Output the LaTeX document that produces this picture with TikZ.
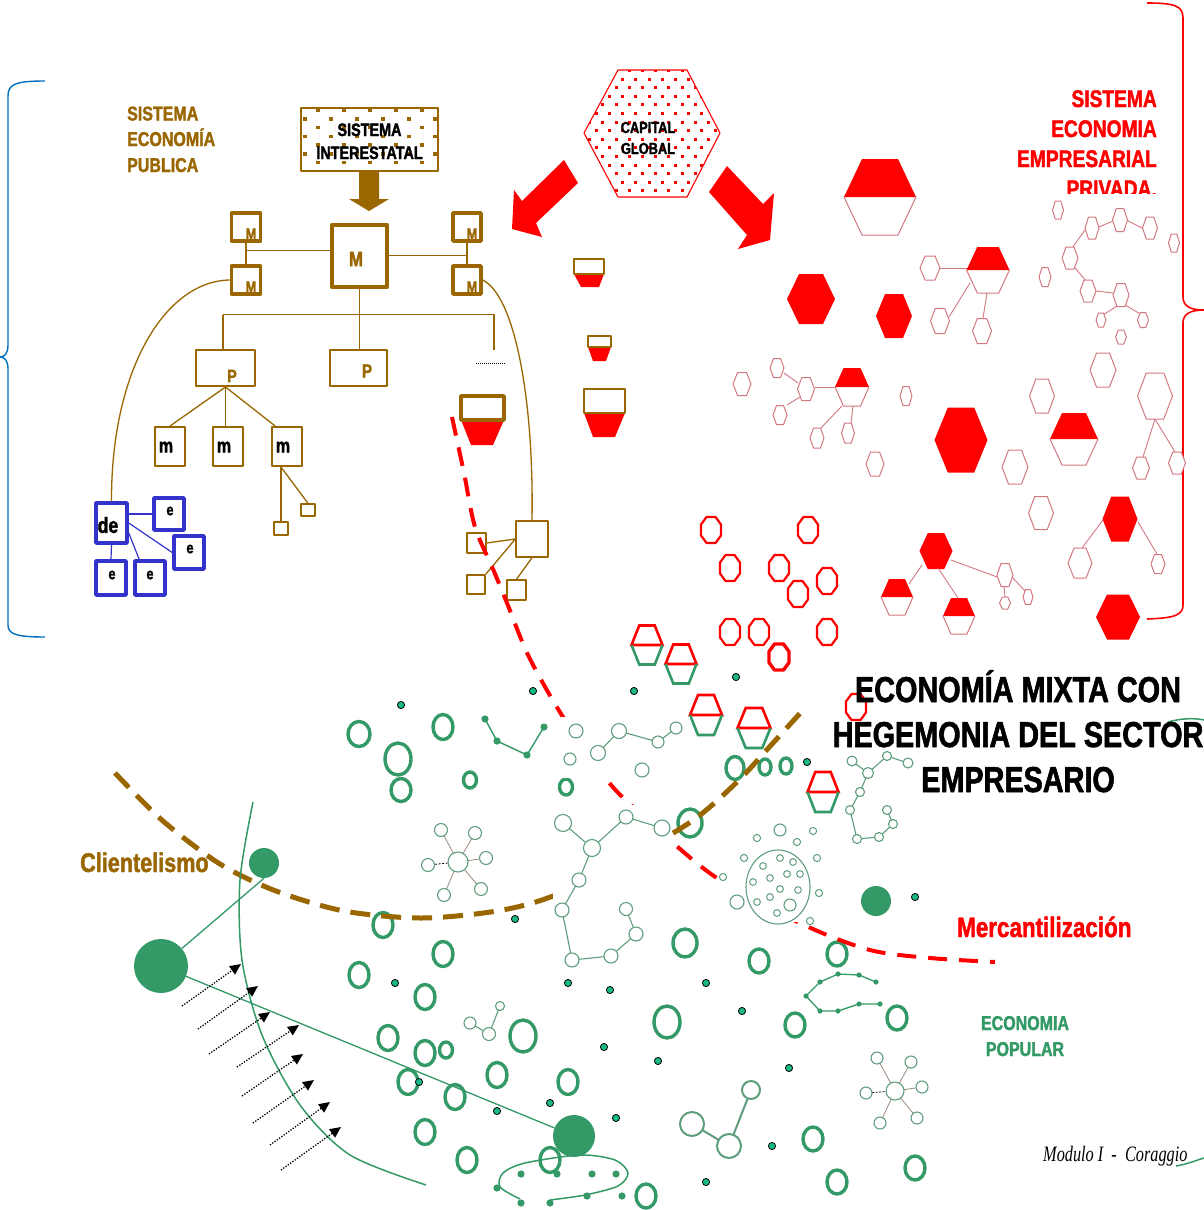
\documentclass[tikz,border=0pt]{standalone}
\usepackage{fontspec}
\setmainfont{Liberation Sans}
\newfontfamily\narb[FakeStretch=0.8,FakeBold=1.6,UprightFont={* Bold}]{Liberation Sans}
\newfontfamily\modfont[FakeStretch=0.74]{Liberation Serif}
\usetikzlibrary{arrows.meta,calc}

\definecolor{brn}{RGB}{153,102,0}
\definecolor{blu}{RGB}{51,51,204}
\definecolor{bracecol}{RGB}{0,112,192}
\definecolor{grn}{RGB}{51,153,102}
\definecolor{lgrn}{RGB}{95,158,125}
\definecolor{pale}{RGB}{210,120,128}
\definecolor{tealdot}{RGB}{25,185,135}

\newcommand\fsz[1]{\fontsize{#1}{#1}\selectfont}
% outlined hexagon: centre x, centre y, half width, half height
\newcommand\hexo[5][]{\draw[palehex,#1] ({#2-#4/2},{#3-#5}) -- ({#2+#4/2},{#3-#5}) -- ({#2+#4},#3) -- ({#2+#4/2},{#3+#5}) -- ({#2-#4/2},{#3+#5}) -- ({#2-#4},#3) -- cycle;}
\newcommand\hexfill[4]{\fill[red] ({#1-#3/2},{#2-#4}) -- ({#1+#3/2},{#2-#4}) -- ({#1+#3},#2) -- ({#1+#3/2},{#2+#4}) -- ({#1-#3/2},{#2+#4}) -- ({#1-#3},#2) -- cycle;}
\newcommand\hexhalf[4]{\fill[red] ({#1-#3/2},{#2-#4}) -- ({#1+#3/2},{#2-#4}) -- ({#1+#3},#2) -- ({#1-#3},#2) -- cycle;
  \draw[palehex] ({#1+#3},#2) -- ({#1+#3/2},{#2+#4}) -- ({#1-#3/2},{#2+#4}) -- ({#1-#3},#2);}
\newcommand\hexrg[4]{\draw[red,line width=2.6,line join=miter] ({#1-#3},#2) -- ({#1-#3/2},{#2-#4}) -- ({#1+#3/2},{#2-#4}) -- ({#1+#3},#2) -- cycle;
  \draw[grn,line width=2.6,line join=miter] ({#1+#3},#2) -- ({#1+#3/2},{#2+#4}) -- ({#1-#3/2},{#2+#4}) -- ({#1-#3},#2);}
\newcommand\octo[3][2.2]{\draw[red,line width=#1] ({#2-4.5},{#3-13}) -- ({#2+4.5},{#3-13}) -- ({#2+10},{#3-5.5}) -- ({#2+10},{#3+5.5}) -- ({#2+4.5},{#3+13}) -- ({#2-4.5},{#3+13}) -- ({#2-10},{#3+5.5}) -- ({#2-10},{#3-5.5}) -- cycle;}
\newcommand\ring[4]{\draw[ring] (#1,#2) ellipse [x radius=#3pt, y radius=#4pt];}
\newcommand\tdot[2]{\filldraw[fill=tealdot,draw=black,line width=0.8] (#1,#2) circle (3.6pt);}
\newcommand\nc[3]{\filldraw[net] (#1,#2) circle (#3pt);}

\begin{document}
\begin{tikzpicture}[x=1pt,y=-1pt,line join=round,
  palehex/.style={draw=pale,line width=1},
  brl/.style={draw=brn,line width=1.3},
  mbox/.style={draw=brn,line width=3.5,minimum width=29pt,minimum height=28pt,inner sep=0pt},
  pbox/.style={draw=brn,line width=2,inner sep=0pt},
  sbox/.style={draw=brn,line width=1.4,inner sep=0pt},
  ebox/.style={draw=blu,line width=3.5,inner sep=0pt,minimum width=30pt,minimum height=33pt},
  ring/.style={draw=grn,line width=3.4},
  net/.style={draw=lgrn,line width=1.1,fill=white},
  netl/.style={draw=lgrn,line width=1.1},
  dotarrow/.style={draw=black,line width=1.3,dash pattern=on 1.3pt off 1.5pt,-{Triangle[length=11pt,width=10pt]}},
]
\useasboundingbox (0,0) rectangle (1204,1210);
\fill[white] (0,0) rectangle (1204,1210);

% ---------- braces ----------
\draw[bracecol,line width=1.4] (45,81) .. controls (16,81) and (8,84) .. (8,96) -- (8,345) .. controls (8,353) and (5,357) .. (0,357) .. controls (5,357) and (8,361) .. (8,369) -- (8,625) .. controls (8,634) and (16,637) .. (45,637);
\draw[red,line width=1.6] (1147,3) .. controls (1175,3) and (1183,6) .. (1183,18) -- (1183,297) .. controls (1183,306) and (1190,310) .. (1204,310) .. controls (1190,310) and (1183,314) .. (1183,323) -- (1183,605) .. controls (1183,615) and (1175,618) .. (1147,619);

% ---------- public economy ----------
\node[font=\narb\fsz{20},text=brn,anchor=base west,inner sep=0pt] (pub1) at (127,120.5) {SISTEMA};
\node[font=\narb\fsz{20},text=brn,anchor=base west,inner sep=0pt] (pub2) at (127,146) {ECONOMÍA};
\node[font=\narb\fsz{20},text=brn,anchor=base west,inner sep=0pt] (pub3) at (127,172) {PUBLICA};

\node[draw=brn,line width=1.5,minimum width=137pt,minimum height=63pt,inner sep=0pt] (sint) at (369.5,139.5) {};
\foreach \i in {0,...,6}{\foreach \j in {0,...,5}{
  \pgfmathsetmacro\xx{303+13*mod(\i+1,2)+26*\j}
  \pgfmathsetmacro\yy{112+8.7*\i}
  \ifdim\xx pt<436pt \fill[brn] (\xx,\yy) rectangle ++(3.5,-3.5);\fi }}
\node[font=\narb\fsz{18},anchor=base,inner sep=0pt] (sint1) at (369.5,136) {SISTEMA};
\node[font=\narb\fsz{18},anchor=base,inner sep=0pt] (sint2) at (369.5,159) {INTERESTATAL};
\fill[brn] (359,171) -- (379,171) -- (379,199) -- (389,199) -- (369,211) -- (349,199) -- (359,199) -- cycle;

\node[mbox] (mTL) at (246,227) {};
\node[mbox] (mBL) at (246,280) {};
\node[mbox,minimum width=28pt] (mTR) at (467,227) {};
\node[mbox,minimum width=28pt] (mBR) at (467,280) {};
\node[draw=brn,line width=4.5,minimum width=55pt,minimum height=62pt,inner sep=0pt] (MM) at (359.5,256) {};
\foreach \nm/\px/\py in {tMa/251/234,tMb/251/287,tMc/472/234,tMd/472/287}
  \node[font=\narb\fsz{16},text=brn,inner sep=0pt] (\nm) at (\px,\py) {M};
\node[font=\narb\fsz{21},text=brn,inner sep=0pt] (tMM) at (356,259) {M};

\coordinate (jL) at ($(mTL.south)!0.35!(mBL.north)$);
\coordinate (jR) at ($(mTR.south)!0.6!(mBR.north)$);
\draw[brl] (mTL.south) -- (mBL.north);
\draw[brl] (mTR.south) -- (mBR.north);
\draw[brl] (jL) -- (jL -| MM.west);
\draw[brl] (MM.east |- jR) -- (jR);

\node[pbox,minimum width=59pt,minimum height=36pt] (P1) at (225.5,368) {};
\node[pbox,minimum width=57pt,minimum height=36pt] (P2) at (358,368) {};
\node[font=\narb\fsz{18},text=brn,inner sep=0pt] (tP1) at (232,376) {P};
\node[font=\narb\fsz{19},text=brn,inner sep=0pt] (tP2) at (367,371) {P};
\coordinate (busL) at (223,314.5);
\coordinate (busR) at (494,314.5);
\coordinate (busE) at (494,350);
\draw[brl] (MM.south) -- (MM.south |- P2.north);
\draw[brl] (busL) -- (busR) -- (busE);
\draw[brl] (busL) -- (busL |- P1.north);
\coordinate (dotA) at (476,363);
\coordinate (dotB) at (505,363);
\draw[black,line width=0.6,dash pattern=on 1pt off 1pt] (dotA) -- (dotB);

\node[pbox,minimum width=30pt,minimum height=39pt] (m1) at (170,446.5) {};
\node[pbox,minimum width=30pt,minimum height=39pt] (m2) at (228,446.5) {};
\node[pbox,minimum width=30pt,minimum height=39pt] (m3) at (287,446.5) {};
\foreach \nm/\px in {tm1/166,tm2/224,tm3/283}
  \node[font=\narb\fsz{20},inner sep=0pt] (\nm) at (\px,447) {m};
\draw[brl] (P1.south) -- (m1.north);
\draw[brl] (P1.south) -- (P1.south |- m2.north);
\draw[brl] (P1.south) -- (m3.120);

\node[sbox,minimum width=14pt,minimum height=13pt] (s1) at (281,528.5) {};
\node[sbox,minimum width=14pt,minimum height=12pt] (s2) at (308,510) {};
\draw[brl] (s1.north |- m3.south) -- (s1.north);
\draw[brl] (s1.north |- m3.south) -- (s2.north);

\node[sbox,minimum width=32pt,minimum height=36pt] (R) at (532,539) {};
\node[sbox,minimum width=19pt,minimum height=20pt] (r1) at (476.5,543) {};
\node[sbox,minimum width=18pt,minimum height=19pt] (r2) at (476,584.5) {};
\node[sbox,minimum width=19pt,minimum height=20pt] (r3) at (516.5,590) {};
\draw[brl] (R.west) -- (r1.east);
\draw[brl] (R.west) -- (r2.north east);
\draw[brl] (R.south) -- (r3.north);

\node[ebox,minimum width=31pt,minimum height=40pt] (de) at (111.5,523) {};
\node[ebox,minimum height=32pt] (e1) at (169,514) {};
\node[ebox] (e2) at (189,552.5) {};
\node[ebox,minimum height=34pt] (e3) at (111,578) {};
\node[ebox,minimum height=34pt] (e4) at (150,578) {};
\node[font=\narb\fsz{22},inner sep=0pt] (tde) at (108,525) {de};
\foreach \nm/\px/\py in {te1/170/511,te2/190/549,te3/112/575,te4/150/575}
  \node[font=\narb\fsz{16},inner sep=0pt] (\nm) at (\px,\py) {e};
\draw[blu,line width=1.2] (de.east |- e1.west) -- (e1.west);
\draw[blu,line width=1.2] (de.east) -- (e2.west);
\draw[blu,line width=1.2] (de.330) -- (e4.120);
\draw[blu,line width=1.2] (de.south) -- (e3.north);

\draw[brl] (mBL.west) .. controls (165,281) and (111,370) .. (de.north);
\draw[brl] (mBR.east) .. controls (515,296) and (534,400) .. (R.north);

% small firms with red bases
\fill[red] (574,274) -- (604,274) -- (599,287) -- (581,287) -- cycle;
\draw[brn,line width=2] (574,259) rectangle (604,274);
\fill[red] (588,347) -- (611,347) -- (606,361) -- (593,361) -- cycle;
\draw[brn,line width=2] (588,336) rectangle (611,347);
\fill[red] (584,413) -- (625,413) -- (615,437) -- (593,437) -- cycle;
\draw[brn,line width=2] (584,389) rectangle (625,413);
\fill[red] (461,420) -- (504,420) -- (493,445) -- (471,445) -- cycle;
\draw[brn,line width=3.5] (461,396) rectangle (504,420);

% ---------- global capital ----------
\begin{scope}
\clip (618,70) -- (687,70) -- (720,133) -- (687,197) -- (618,197) -- (584,133) -- cycle;
\foreach \i in {0,...,15}{\foreach \j in {0,...,11}{
  \pgfmathsetmacro\xx{575+13.2*\j+6.6*mod(\i,2)}
  \pgfmathsetmacro\yy{72+8.6*\i}
  \fill[red] (\xx,\yy) rectangle ++(3,-3);}}
\end{scope}
\draw[red,line width=1.1] (618,70) -- (687,70) -- (720,133) -- (687,197) -- (618,197) -- (584,133) -- cycle;
\node[font=\narb\fsz{16},anchor=base,inner sep=0pt] (cap1) at (648,133) {CAPITAL};
\node[font=\narb\fsz{16},anchor=base,inner sep=0pt] (cap2) at (648,154) {GLOBAL};
\fill[red] (564,160) -- (578,183) -- (536,223) -- (542,237) -- (512,229) -- (514,190) -- (522,201) -- cycle;
\fill[red] (727,166) -- (763,204) -- (774,193) -- (770,240) -- (738,249) -- (747,235) -- (709,192) -- cycle;

% ---------- private business economy ----------
\node[font=\narb\fsz{24},text=red,anchor=base east,inner sep=0pt] (prv1) at (1157,107) {SISTEMA};
\node[font=\narb\fsz{24},text=red,anchor=base east,inner sep=0pt] (prv2) at (1157,137) {ECONOMIA};
\node[font=\narb\fsz{24},text=red,anchor=base east,inner sep=0pt] (prv3) at (1157,167) {EMPRESARIAL};
\node[font=\narb\fsz{24},text=red,anchor=base east,inner sep=0pt] (prv4) at (1157,197) {PRIVADA.};
\fill[white] (1035,194) rectangle (1178,205);

\hexfill{811}{299}{24}{25}
\hexfill{894}{316}{18}{22}
\hexfill{961}{440}{26.5}{32.5}
\hexfill{1120}{519}{17.5}{22.5}
\hexfill{936}{551}{16.5}{18}
\hexfill{1118}{617}{22}{22.5}
\hexhalf{880}{197}{36}{38}
\hexhalf{988}{270}{21.5}{23}
\hexhalf{852}{387}{17}{19}
\hexhalf{1074}{439}{24}{26}
\hexhalf{897}{597}{16}{18}
\hexhalf{959}{616}{16}{18}
\foreach \a/\b in {{940,268}/{967,268},{970,283}/{949,317},{987,293}/{983,318},
  {1099,227}/{1113,221},{1128,221}/{1142,228},{1085,230}/{1072,248},{1075,268}/{1086,281},
  {1096,291}/{1113,293},{1125,305}/{1142,315},{1117,306}/{1103,315},
  {784,373}/{798,383},{787,405}/{800,397},{815,387}/{835,387},{820,429}/{842,406},{851,423}/{853,406},
  {1155,419}/{1143,457},{1155,419}/{1175,452},
  {1103,520}/{1082,548},{1138,522}/{1157,554},
  {922,565}/{909,584},{938,568}/{958,598},{951,560}/{997,577},{1004,587}/{1005,597},{1012,577}/{1026,592}}
  \draw[pale,line width=0.9] (\a) -- (\b);
\foreach \cx/\cy/\w/\h in {930/268/10/12,940/321/9.5/12.5,982/331/9.5/12.5,
  1058/210/5.5/9,1092/228/7/11,1120/220/7.5/11.5,1150/228/7.5/11,1174/243/5.5/9,
  1070/258/8/11,1045/277/6/9.5,1088/291/8/11,1121/295/8/11.5,1101/320/5/7,1143/320/5.5/7.5,1121/337/5.5/7,
  742/384/9/11.5,777/368/7/9.5,806/389/8.5/11.5,780/415/7/9.5,817/438/7/10,848/433/6.5/10,
  906/396/6/9.5,875/464/9/12,1015/467/13/17,1042/396/12.5/17,1103/370/13/17,
  1155/396/17.5/23,1141/468/8.5/11,1177/463/8.5/11,
  1041/513/12.5/16.5,1080/563/12/15,1158/564/7/9.5,1005/575/8/11.5,1005/603/5.5/6,1028/597/5/7.5}
  {\hexo[fill=white]{\cx}{\cy}{\w}{\h}}

% red octagons and mixed firms
\foreach \ox/\oy in {711/530,808/530,730/568,779/568,798/594,827/581,730/632,759/632,827/632,856/707}
  {\octo{\ox}{\oy}}
\octo[3.4]{779}{657}
\hexrg{647}{645}{15.5}{19.5}
\hexrg{681}{664}{15.5}{19.5}
\hexrg{706}{715}{16}{20}
\hexrg{754}{728}{16.5}{20}
\hexrg{823}{792}{15.5}{20}

% ---------- popular economy ----------
\ring{359}{734}{11}{12.5} \ring{398}{759}{13}{16} \ring{401}{790}{10}{11.5}
\ring{443}{727}{10}{12.5} \ring{470}{780}{6.5}{8} \ring{566}{787}{6.5}{8}
\ring{383}{925}{10}{12.5} \ring{443}{954}{10}{12.5} \ring{359}{975}{10}{12.5}
\ring{425}{997}{10}{12.5} \ring{388}{1038}{10}{12.5} \ring{425}{1053}{10}{12.5}
\ring{446}{1050}{6.5}{8} \ring{523}{1036}{13}{16} \ring{497}{1075}{10}{12.5}
\ring{408}{1082}{10}{12.5} \ring{455}{1097}{10}{12.5} \ring{568}{1082}{10}{12.5}
\ring{425}{1132}{10}{12.5} \ring{467}{1160}{10}{12.5} \ring{550}{1160}{10}{12.5}
\ring{735}{768}{9}{11.5} \ring{765}{767}{6}{8} \ring{786}{766}{6}{8}
\ring{690}{823}{12}{14} \ring{685}{943}{12}{14} \ring{759}{961}{10}{12}
\ring{837}{954}{10}{12} \ring{667}{1022}{13}{16} \ring{795}{1025}{10}{12}
\ring{897}{1018}{10}{12} \ring{813}{1139}{10}{12} \ring{915}{1168}{10}{12}
\ring{837}{1182}{10}{12} \ring{646}{1196}{10}{12}

\foreach \dx/\dy in {401/705,533/691,634/691,736/677,807/762,515/919,915/897,395/983,568/983,
  610/990,706/983,742/1011,604/1047,658/1061,789/1068,419/1082,497/1111,550/1103,616/1118,772/1146,706/1182}
  {\tdot{\dx}{\dy}}

% dashed frontiers
\draw[red,line width=4,dash pattern=on 19pt off 12pt] plot[smooth] coordinates {(452,417) (464,473) (475,527) (493,569) (507,603) (529,657) (563,717) (607,780) (633,807) (673,843) (720,880) (804,925) (870,950) (930,958) (995,962)};
\draw[brn,line width=5,dash pattern=on 20pt off 11pt] plot[smooth] coordinates {(115,773) (163,821) (220,864) (276,891) (344,911) (421,918) (497,911) (553,896) (622,862) (692,821) (737,782) (773,743) (803,710)};

% backgrounds of the network groups
\fill[white] (561,717) rectangle (690,778);
\fill[white] (553,805) rectangle (671,975);
\fill[white] (718,818) rectangle (828,922);

% group A
\draw[netl] (598,753) -- (619,731) -- (658,742) -- (676,728);
\nc{576}{731}{7} \nc{570}{759}{6} \nc{598}{753}{7.5} \nc{619}{731}{7.5} \nc{658}{742}{6} \nc{676}{728}{6} \nc{642}{770}{7}
% group B
\draw[grn,line width=1.4] (485,719) -- (497,741) -- (527,755) -- (544,727);
\foreach \p in {(485,719),(497,741),(527,755),(544,727)} \fill[grn] \p circle (3.6pt);
% star C
\foreach \p in {(441,830),(475,833),(486,858),(444,895),(481,889)} \draw[pale!55!lgrn,line width=0.8] (458,862) -- \p;
\draw[black,line width=0.8,dash pattern=on 2pt off 1.5pt] (458,862) -- (428,865);
\nc{458}{862}{10} \nc{441}{830}{6.5} \nc{475}{833}{6.5} \nc{428}{865}{6.5} \nc{486}{858}{6.5} \nc{444}{895}{6.5} \nc{481}{889}{6.5}
% chain D
\draw[netl] (563,823) -- (592,848) -- (626,817) -- (662,828);
\draw[netl] (592,848) -- (579,880) -- (562,910) -- (572,960) -- (611,956) -- (636,934) -- (626,909);
\nc{563}{823}{8.5} \nc{592}{848}{8.5} \nc{626}{817}{7} \nc{662}{828}{8} \nc{579}{880}{7}
\nc{562}{910}{7} \nc{572}{960}{7} \nc{611}{956}{7} \nc{636}{934}{7} \nc{626}{909}{6.5}
% cell E
\draw[lgrn,line width=1.1] (778,887) ellipse [x radius=32pt, y radius=37pt];
\foreach \p in {(763,866),(780,858),(793,862),(753,882),(770,878),(787,874),(800,874),(780,889),(798,890),(757,902),(770,897),(777,913)}
  \draw[lgrn,line width=1] \p circle (3.4pt);
\nc{790}{905}{6}
\foreach \p in {(757,838),(797,842),(813,831),(744,858),(817,858),(819,893),(810,921),(723,877)}
  \draw[lgrn,line width=1] \p circle (3.6pt);
\nc{780}{830}{6} \nc{737}{902}{7}
% chain F
\draw[netl] (852,761) -- (868,773) -- (887,756) -- (908,763);
\draw[netl] (868,773) -- (860,792) -- (850,810) -- (857,839) -- (879,837) -- (893,824) -- (887,810);
\nc{852}{761}{5} \nc{868}{773}{5.5} \nc{860}{792}{4.5} \nc{850}{810}{4.5} \nc{857}{839}{4.5}
\nc{879}{837}{4.5} \nc{893}{824}{4.5} \nc{887}{810}{4.5} \nc{887}{756}{4.5} \nc{908}{763}{5}
% group G
\draw[netl] (470,1023) -- (489,1034) -- (500,1006);
\nc{470}{1023}{6} \nc{489}{1034}{6.5} \nc{500}{1006}{4.5}
% group H
\draw[lgrn,line width=2] (692,1124) -- (729,1146) -- (751,1090);
\draw[lgrn,line width=2,fill=white] (692,1124) circle (12pt);
\draw[lgrn,line width=2,fill=white] (729,1146) circle (12pt);
\draw[lgrn,line width=2,fill=white] (751,1090) circle (9pt);
% star I
\foreach \p in {(877,1058),(911,1062),(922,1087),(880,1123),(917,1118)} \draw[pale!55!lgrn,line width=0.8] (895,1091) -- \p;
\draw[black,line width=0.8,dash pattern=on 2pt off 1.5pt] (895,1091) -- (866,1093);
\nc{895}{1091}{9} \nc{877}{1058}{6} \nc{911}{1062}{6} \nc{922}{1087}{6} \nc{866}{1093}{6} \nc{880}{1123}{6} \nc{917}{1118}{6}
% chain J
\draw[grn,line width=1.3] (876,982) -- (859,975) -- (838,974) -- (820,982) -- (806,996) -- (820,1011) -- (838,1011) -- (859,1004) -- (880,1004);
\foreach \p in {(876,982),(859,975),(838,974),(820,982),(806,996),(820,1011),(838,1011),(859,1004),(880,1004)}
  \fill[grn] \p circle (2.6pt);

% clientelist links
\draw[grn,line width=1.5] plot[smooth] coordinates {(253,802) (240,880) (242,960) (262,1035) (300,1105) (350,1155) (426,1185)};
\draw[grn,line width=1.5] plot[smooth] coordinates {(520,1199) (500,1187) (503,1173) (525,1163) (580,1155) (615,1160) (628,1173) (618,1186) (585,1195) (550,1200)};
\foreach \p in {(521,1174),(557,1174),(592,1174),(616,1174),(497,1188),(521,1203),(550,1203),(587,1196),(622,1196)}
  \fill[grn] \p circle (3.6pt);
\node[circle,fill=grn,minimum size=54pt,inner sep=0pt] (bigA) at (161,966) {};
\node[circle,fill=grn,minimum size=30pt,inner sep=0pt] (bigB) at (264,863) {};
\node[circle,fill=grn,minimum size=42pt,inner sep=0pt] (bigC) at (574,1136) {};
\node[circle,fill=grn,minimum size=30pt,inner sep=0pt] (bigD) at (876,901) {};
\draw[grn,line width=1.3] (bigA.40) -- (bigB.south);
\draw[grn,line width=1.3] (bigA) -- (bigC);

\foreach \sx/\sy/\ex/\ey in {182/1006/241/964,198/1029/258/986,209/1054/270/1012,237/1067/299/1025,
  242/1096/303/1054,253/1123/314/1080,270/1145/330/1102,281/1170/341/1127}
  \draw[dotarrow] (\sx,\sy) -- (\ex,\ey);

\draw[grn,line width=1.5] (1168,722) .. controls (1182,718) and (1195,718) .. (1204,720);
\draw[grn,line width=1.5] (1176,1166) .. controls (1188,1164) and (1197,1160) .. (1204,1158);

% ---------- labels ----------
\node[font=\narb\fsz{27},text=brn,anchor=base west,inner sep=0pt] (clien) at (80,872) {Clientelismo};
\node[font=\narb\fsz{28},text=red,anchor=base west,inner sep=0pt] (merc) at (957,937) {Mercantilización};
\node[font=\narb\fsz{20},text=grn,anchor=base,inner sep=0pt] (pop1) at (1025,1030) {ECONOMIA};
\node[font=\narb\fsz{20},text=grn,anchor=base,inner sep=0pt] (pop2) at (1025,1056) {POPULAR};
\node[font=\narb\fsz{36},anchor=base,inner sep=0pt] (tit1) at (1018,702) {ECONOMÍA MIXTA CON};
\node[font=\narb\fsz{36},anchor=base,inner sep=0pt] (tit2) at (1018,747) {HEGEMONIA DEL SECTOR};
\node[font=\narb\fsz{36},anchor=base,inner sep=0pt] (tit3) at (1018,792) {EMPRESARIO};
\node[font=\modfont\itshape\fsz{22},anchor=base west,inner sep=0pt] (cred) at (1043,1161) {Modulo I \ - \ Coraggio};
\end{tikzpicture}
\end{document}
